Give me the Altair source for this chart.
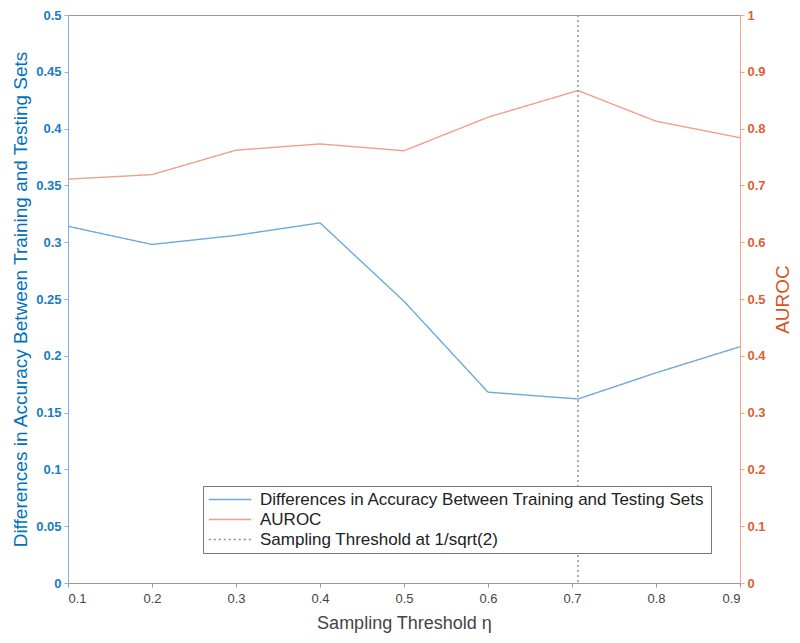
import altair as alt
import pandas as pd

# Data
thresholds = [0.1, 0.2, 0.3, 0.4, 0.5, 0.6, 0.70711, 0.8, 0.9]
acc_diff = [0.314, 0.298, 0.306, 0.317, 0.248, 0.168, 0.162, 0.185, 0.208]
auroc = [0.711, 0.719, 0.762, 0.773, 0.761, 0.820, 0.867, 0.813, 0.784]
vline_x = [0.70711]

series_names = [
    "Differences in Accuracy Between Training and Testing Sets",
    "AUROC",
    "Sampling Threshold at 1/sqrt(2)",
]
series_colors = ["#6fa9dc", "#f2a08a", "#8c8c8c"]
series_dash = [[1, 0], [1, 0], [2, 3]]

x_ticks = [0.1, 0.2, 0.3, 0.4, 0.5, 0.6, 0.7, 0.8, 0.9]
left_ticks = [0, 0.05, 0.1, 0.15, 0.2, 0.25, 0.3, 0.35, 0.4, 0.45, 0.5]
right_ticks = [0, 0.1, 0.2, 0.3, 0.4, 0.5, 0.6, 0.7, 0.8, 0.9, 1]

df_acc = pd.DataFrame({"x": thresholds, "y": acc_diff, "series": series_names[0]})
df_auc = pd.DataFrame({"x": thresholds, "y": auroc, "series": series_names[1]})
df_rule = pd.DataFrame({"x": vline_x, "series": series_names[2]})

FONT = "Liberation Sans"

legend = alt.Legend(
    title=None,
    orient="none",
    legendX=135,
    legendY=471,
    symbolType="stroke",
    symbolSize=1800,
    symbolStrokeWidth=1.5,
    clipHeight=17,
    labelFontSize=17,
    labelFont=FONT,
    labelColor="#222222",
    fillColor="white",
    strokeColor="#777777",
    padding=5,
    rowPadding=2,
    labelOffset=8,
    labelLimit=700,
)

color = alt.Color(
    "series:N",
    scale=alt.Scale(domain=series_names, range=series_colors),
    legend=legend,
)
dash = alt.StrokeDash(
    "series:N",
    scale=alt.Scale(domain=series_names, range=series_dash),
    legend=legend,
)

x_enc = alt.X(
    "x:Q",
    scale=alt.Scale(domain=[0.1, 0.9], nice=False, zero=False),
    axis=alt.Axis(
        values=x_ticks,
        format=".1f",
        title="Sampling Threshold η",
        titleFontSize=18,
        titleFontWeight="normal",
        titleColor="#444444",
        titleFont=FONT,
        titlePadding=9,
        labelFont=FONT,
        labelFontSize=13,
        labelColor="#444444",
        domainColor="#999999",
        tickColor="#999999",
        tickSize=4,
        labelPadding=5,
        grid=False,
    ),
)

left = alt.Chart(df_acc).mark_line(strokeWidth=1.4).encode(
    x=x_enc,
    y=alt.Y(
        "y:Q",
        scale=alt.Scale(domain=[0, 0.5], nice=False),
        axis=alt.Axis(
            values=left_ticks,
            format="~g",
            orient="left",
            title="Differences in Accuracy Between Training and Testing Sets",
            titleFontSize=19,
            titleFontWeight="normal",
            titleColor="#0072BD",
            titleFont=FONT,
            titlePadding=5,
            labelFont=FONT,
            labelFontSize=13,
            labelFontWeight="bold",
            labelColor="#1a7cc2",
            domainColor="#7fb4e2",
            tickColor="#7fb4e2",
            tickSize=4,
            labelPadding=3,
            grid=False,
        ),
    ),
    color=color,
    strokeDash=dash,
)

right = alt.Chart(df_auc).mark_line(strokeWidth=1.4).encode(
    x=x_enc,
    y=alt.Y(
        "y:Q",
        scale=alt.Scale(domain=[0, 1], nice=False),
        axis=alt.Axis(
            values=right_ticks,
            format="~g",
            orient="right",
            title="AUROC",
            titleAngle=270,
            titleBaseline="top",
            titleFontSize=19,
            titleFontWeight="normal",
            titleColor="#D95319",
            titleFont=FONT,
            titlePadding=8,
            labelFont=FONT,
            labelFontSize=13,
            labelFontWeight="bold",
            labelColor="#dd6035",
            domainColor="#f0a58c",
            tickColor="#f0a58c",
            tickSize=4,
            labelPadding=3,
            grid=False,
        ),
    ),
    color=color,
    strokeDash=dash,
)

rule = alt.Chart(df_rule).mark_rule(strokeWidth=1.4).encode(
    x=alt.X("x:Q"),
    color=color,
    strokeDash=dash,
)

chart = (
    alt.layer(left, right, rule)
    .resolve_scale(y="independent")
    .properties(
        width=672,
        height=568,
        autosize=alt.AutoSizeParams(type="none"),
        padding={"left": 60, "top": 7, "right": 52, "bottom": 52},
        background="white",
    )
    .configure_view(stroke="#999999", strokeWidth=1)
)

chart.save("out.html", embed_options={"renderer": "svg", "actions": False})
